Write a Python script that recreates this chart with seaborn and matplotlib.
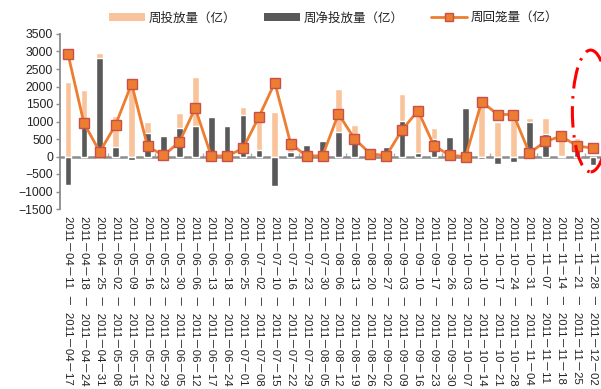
import numpy as np
import pandas as pd
import seaborn as sns
import matplotlib.pyplot as plt
from matplotlib.patches import Ellipse, Patch
from matplotlib.lines import Line2D

# Weekly open-market operations, 2011 (unit: 100 million yuan)
week_start = ["2011-04-11", "2011-04-18", "2011-04-25", "2011-05-02", "2011-05-09",
              "2011-05-16", "2011-05-23", "2011-05-30", "2011-06-06", "2011-06-13",
              "2011-06-18", "2011-06-25", "2011-07-02", "2011-07-10", "2011-07-16",
              "2011-07-23", "2011-07-30", "2011-08-06", "2011-08-13", "2011-08-20",
              "2011-08-27", "2011-09-03", "2011-09-10", "2011-09-17", "2011-09-26",
              "2011-10-03", "2011-10-10", "2011-10-17", "2011-10-24", "2011-10-31",
              "2011-11-07", "2011-11-14", "2011-11-21", "2011-11-28"]
week_end = ["2011-04-17", "2011-04-24", "2011-04-31", "2011-05-08", "2011-05-15",
            "2011-05-22", "2011-05-29", "2011-06-05", "2011-06-12", "2011-06-17",
            "2011-06-24", "2011-07-01", "2011-07-08", "2011-07-15", "2011-07-22",
            "2011-07-29", "2011-08-05", "2011-08-12", "2011-08-19", "2011-08-26",
            "2011-09-02", "2011-09-09", "2011-09-16", "2011-09-23", "2011-09-30",
            "2011-10-07", "2011-10-14", "2011-10-21", "2011-10-28", "2011-11-04",
            "2011-11-11", "2011-11-18", "2011-11-25", "2011-12-02"]
placement = [2120, 1900, 2950, 1160, 1990, 1000, 620, 1250, 2280, 1160, 880, 1420,
             1310, 1280, 500, 350, 470, 1920, 900, 90, 290, 1780, 1390, 810,
             590, 1380, 1490, 1000, 1050, 1090, 1090, 580, 520, 0]
net_placement = [-810, 890, 2820, 270, -90, 670, 590, 810, 880, 1130, 870, 1190,
                 190, -830, 140, 330, 430, 700, 390, 10, 270, 1010, 90, 490,
                 550, 1380, -80, -200, -150, 1000, 650, 10, 220, -240]
withdrawal = [2930, 960, 130, 910, 2080, 290, 30, 410, 1380, 20, 15, 230,
              1130, 2110, 360, 15, 20, 1220, 510, 80, 20, 760, 1310, 310,
              30, 0, 1570, 1200, 1200, 95, 430, 580, 300, 240]
legend_labels = ["周投放量（亿）", "周净投放量（亿）", "周回笼量（亿）"]
y_ticks = list(range(-1500, 3501, 500))

LIGHT = "#F9C49B"
DARK = "#595959"
ORANGE = "#ED7D31"
EDGE = "#C9504A"
AXIS = "#8C8C8C"

sns.set_theme(style="white")
plt.rcParams["font.family"] = ["Liberation Sans", "Noto Sans CJK SC"]
plt.rcParams["axes.unicode_minus"] = True


def week_label(start, end):
    fmt = lambda d: d.replace("-", "－")
    return f"{fmt(start)}  －  {fmt(end)}"


weeks = [week_label(s, e) for s, e in zip(week_start, week_end)]
df = pd.DataFrame({"week": weeks, "placement": placement,
                   "net": net_placement, "withdrawal": withdrawal})
pos = np.arange(len(weeks))

fig = plt.figure(figsize=(6.01, 3.89), dpi=100)
ax = fig.add_axes([60 / 601, (389 - 209) / 389, 541 / 601, 175 / 389])

sns.barplot(data=df, x="week", y="placement", color=LIGHT, width=0.42,
            saturation=1, ax=ax, zorder=1)
sns.barplot(data=df, x="week", y="net", color=DARK, width=0.42,
            saturation=1, ax=ax, zorder=2)
sns.lineplot(x=pos, y=df["withdrawal"], ax=ax, color=ORANGE, linewidth=2.0,
             marker="s", markersize=7.8, markerfacecolor=ORANGE,
             markeredgecolor=EDGE, markeredgewidth=1.0, zorder=4)

ax.set_xlim(-0.5, len(weeks) - 0.5)
ax.set_ylim(-1500, 3500)
ax.set_yticks(y_ticks)
ax.set_xticks(pos)
ax.set_xticklabels(weeks, rotation=270, ha="center", va="top", fontsize=8.2,
                   color="#222222")
ax.set_xlabel("")
ax.set_ylabel("")
ax.tick_params(axis="y", direction="out", length=3, width=1, color=AXIS,
               labelsize=8.8, pad=2, labelcolor="#222222", left=True)
ax.tick_params(axis="x", length=0, pad=5)

for side in ["top", "right", "bottom"]:
    ax.spines[side].set_visible(False)
ax.spines["left"].set_color(AXIS)
ax.spines["left"].set_linewidth(1.3)

# category axis crossing at zero
zero_frac = (0 - (-1500)) / 5000
sec = ax.secondary_xaxis(zero_frac)
sec.set_xticks(np.arange(2.5, len(weeks), 3))
sec.tick_params(direction="in", length=3, width=1, color="#B0B0B0",
                labelbottom=False)
sec.spines["bottom"].set_color(AXIS)
sec.spines["bottom"].set_linewidth(1.8)

# highlight of the latest weeks
ax.add_patch(Ellipse((32.85, 1300), width=2.3, height=3480, fill=False,
                     edgecolor="#FF0000", linewidth=2.2,
                     linestyle=(0, (7, 2.5, 0.8, 2.5)), clip_on=False, zorder=6))

handles = [
    Patch(facecolor=LIGHT, edgecolor="none"),
    Patch(facecolor=DARK, edgecolor="none"),
    Line2D([0], [0], color=ORANGE, linewidth=2.0, marker="s", markersize=6,
           markerfacecolor=ORANGE, markeredgecolor=EDGE, markeredgewidth=1.0),
]
fig.legend(handles, legend_labels, loc="center", bbox_to_anchor=(0.555, 0.954),
           bbox_transform=fig.transFigure, ncol=3, frameon=False,
           prop={"family": ["Noto Sans CJK SC"], "size": 9},
           handlelength=2.9, handleheight=0.7, handletextpad=0.3,
           columnspacing=2.2, labelcolor="#222222")

fig.savefig("out.png", dpi=100)
